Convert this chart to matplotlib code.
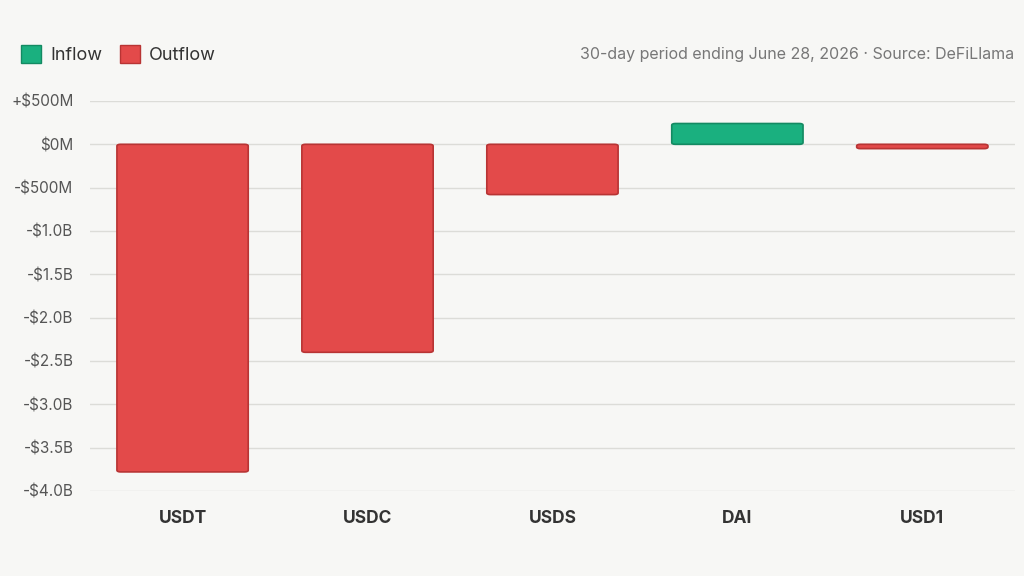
import matplotlib
matplotlib.use("Agg")
import matplotlib.pyplot as plt
from matplotlib.patches import FancyBboxPatch, Patch

plt.rcParams["font.family"] = ["Inter", "DejaVu Sans"]

tokens = ["USDT", "USDC", "USDS", "DAI", "USD1"]
flows_b = [-3.78, -2.40, -0.58, 0.24, -0.05]  # net flow, $ billions
yticks = [0.5, 0.0, -0.5, -1.0, -1.5, -2.0, -2.5, -3.0, -3.5, -4.0]
ytick_labels = ["+$500M", "$0M", "-$500M", "-$1.0B", "-$1.5B", "-$2.0B",
                "-$2.5B", "-$3.0B", "-$3.5B", "-$4.0B"]

BG = "#f7f7f5"
GREEN, GREEN_EDGE = "#1ab07f", "#138a62"
RED, RED_EDGE = "#e34a4a", "#b83434"

fig = plt.figure(figsize=(10.24, 5.76), dpi=100, facecolor=BG)
ax = fig.add_axes([0.088, 0.1476, 0.903, 0.6771], facecolor=BG)

width = 0.71
for i, v in enumerate(flows_b):
    fc, ec = (GREEN, GREEN_EDGE) if v > 0 else (RED, RED_EDGE)
    y0 = min(0, v)
    h = abs(v)
    ax.add_patch(FancyBboxPatch((i - width / 2, y0), width, h,
                                boxstyle="round,pad=0,rounding_size=0.02",
                                mutation_aspect=1.0,
                                facecolor=fc, edgecolor=ec, lw=1.2, zorder=3))

ax.set_xlim(-0.5, 4.5)
ax.set_ylim(-4.0, 0.5)
ax.set_yticks(yticks, ytick_labels)
ax.set_xticks(range(len(tokens)), tokens)
ax.grid(axis="y", color="#dcdcd8", lw=1, zorder=0)
for s in ax.spines.values():
    s.set_visible(False)
ax.tick_params(axis="y", length=0, labelsize=11, labelcolor="#555555", pad=12)
ax.tick_params(axis="x", length=0, labelsize=12.5, labelcolor="#333333", pad=14)
for t in ax.get_xticklabels():
    t.set_fontweight("bold")

handles = [Patch(facecolor=GREEN, edgecolor=GREEN_EDGE, label="Inflow"),
           Patch(facecolor=RED, edgecolor=RED_EDGE, label="Outflow")]
fig.legend(handles=handles, loc="center left", bbox_to_anchor=(0.005, 0.905),
           ncol=2, frameon=False, fontsize=13, handlelength=1.1, handleheight=1.1,
           columnspacing=1.0, handletextpad=0.5, labelcolor="#333333")
fig.text(0.99, 0.905, "30-day period ending June 28, 2026 · Source: DeFiLlama",
         ha="right", va="center", fontsize=11.5, color="#777777")

fig.savefig("out.png", dpi=100, facecolor=BG)
